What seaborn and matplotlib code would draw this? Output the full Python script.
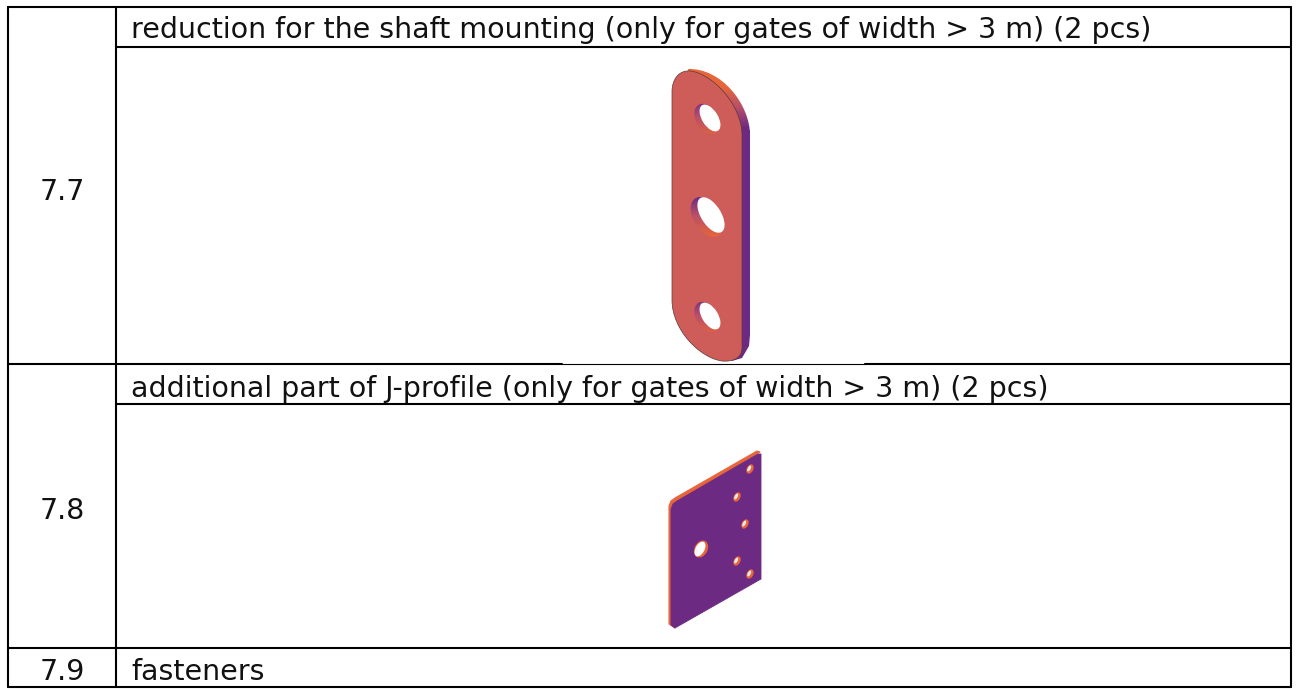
"""
Parts table: items 7.7 - 7.9 with the two part drawings.
"""

import numpy as np
import pandas as pd
import matplotlib
matplotlib.use('Agg')
import matplotlib.pyplot as plt
import seaborn as sns
from matplotlib.colors import LinearSegmentedColormap
from matplotlib.patches import Ellipse, PathPatch, Polygon
from matplotlib.path import Path

# Table text
ITEM_LABELS = ['7.7', '7.8', '7.9']
ITEM_BASELINES = [200, 519, 680]
ROW_TITLES = ['reduction for the shaft mounting (only for gates of width > 3 m) (2 pcs)',
              'additional part of J-profile (only for gates of width > 3 m) (2 pcs)',
              'fasteners']
TITLE_BASELINES = [38, 397, 680]

# Table rules in image pixels (x0, x1, y0, y1)
THICK_RULES = [(8, 1291, 7, 7), (116, 1291, 47, 47), (8, 562, 364, 364), (865, 1291, 364, 364),
               (116, 1291, 404, 404), (116, 1291, 648, 648), (8, 116, 648, 648), (8, 1291, 687, 687),
               (8, 8, 7, 687), (116, 116, 7, 687), (1291, 1291, 7, 687)]
THIN_RULES = [(562, 865, 364, 364)]

# Colours of the parts
FACE_RED = '#CE5C58'
PURPLE = '#6D2A82'
ORANGE = '#E6663A'

# Reduction plate outlines, with matplotlib path codes as letters
FACE_PTS = [(672, 92), (672, 78), (680, 70), (690, 71), (712, 73), (742, 105), (742, 135),
            (742, 348), (742, 358), (733, 362), (722, 361), (700, 358), (672, 330), (672, 300), (672, 92)]
FACE_CODES = 'MCCCCCCLCCCCCCL'
SIDE_PTS = [(688, 69), (722, 68), (750, 105), (750, 135), (750, 335), (750, 350), (742, 360),
            (730, 361), (688, 69)]
SIDE_CODES = 'MCCCLCCCL'
HOLE_WALL_X = [707, 707, 707]
HOLE_WALL_Y = [119, 217, 317]
HOLE_OPEN_X = [710, 711, 710]
HOLE_OPEN_Y = [118, 215, 316]
HOLE_OUTER = [(33, 22), (44, 27), (33, 22)]
HOLE_INNER = [(30, 16), (40, 20), (30, 16)]

# J-profile part outlines
EDGE_PTS = [(669, 624), (669, 506), (671, 501), (675, 498), (757, 451), (760, 452), (671, 507), (672, 624), (675, 628)]
SHEET_PTS = [(671, 509), (673, 504), (677, 501), (758, 454), (761, 454), (761, 579), (675, 628), (671, 625)]
BIG_HOLE = (701, 549)
SMALL_HOLES_X = [750, 737, 745, 737, 750]
SMALL_HOLES_Y = [469, 497, 524, 561, 574]

sns.set_theme(style='white')
plt.rcParams['font.family'] = ['DejaVu Sans']

fig = plt.figure(figsize=(13, 6.89), dpi=100)
ax = fig.add_axes([0, 0, 1, 1])


def rules_frame(rules):
    rows = []
    for i, (x0, x1, y0, y1) in enumerate(rules):
        rows.append({'rule': i, 'x': x0, 'y': y0})
        rows.append({'rule': i, 'x': x1, 'y': y1})
    return pd.DataFrame(rows)


def curve_path(pts, letters):
    kinds = {'M': Path.MOVETO, 'L': Path.LINETO, 'C': Path.CURVE4}
    return Path(pts, [kinds[c] for c in letters])


def gradient(stops, extent, clip, zorder=2):
    cmap = LinearSegmentedColormap.from_list('part', stops)
    img = np.linspace(0, 1, 256)[:, None]
    im = ax.imshow(img, cmap=cmap, extent=extent, aspect='auto', origin='upper', zorder=zorder)
    im.set_clip_path(clip)


# Table rules
sns.lineplot(data=rules_frame(THICK_RULES), x='x', y='y', units='rule', estimator=None, sort=False,
             color='black', linewidth=1.5, ax=ax)
sns.lineplot(data=rules_frame(THIN_RULES), x='x', y='y', units='rule', estimator=None, sort=False,
             color='black', linewidth=0.8, ax=ax)

# Text
for label, y in zip(ITEM_LABELS, ITEM_BASELINES):
    ax.text(62, y, label, ha='center', va='baseline', fontsize=20.5, color='#111111')
for title, y in zip(ROW_TITLES, TITLE_BASELINES):
    ax.text(131, y, title, ha='left', va='baseline', fontsize=20.5, color='#111111')

# Reduction plate: side first, then the front face over it
side = PathPatch(curve_path(SIDE_PTS, SIDE_CODES), facecolor='none', edgecolor='none')
ax.add_patch(side)
gradient([(0, ORANGE), (0.3, ORANGE), (0.6, '#B84F6A'), (0.9, PURPLE), (1, PURPLE)], (685, 755, 135, 66), side)
side_low = Polygon([(735, 130), (750, 130), (750, 335), (749, 346), (742, 358), (732, 361)],
                   closed=True, facecolor=PURPLE, edgecolor='none', zorder=2)
ax.add_patch(side_low)
face = PathPatch(curve_path(FACE_PTS, FACE_CODES), facecolor=FACE_RED, edgecolor='#5a3a3a', linewidth=0.5, zorder=3)
ax.add_patch(face)

for wx, wy, ox, oy, outer, inner in zip(HOLE_WALL_X, HOLE_WALL_Y, HOLE_OPEN_X, HOLE_OPEN_Y, HOLE_OUTER, HOLE_INNER):
    wall = Ellipse((wx, wy), outer[0], outer[1], angle=58, facecolor='none', edgecolor='none')
    ax.add_patch(wall)
    gradient([(0, PURPLE), (0.45, '#B84F6A'), (1, ORANGE)], (wx - 20, wx + 20, wy + 20, wy - 20), wall, zorder=4)
    ax.add_patch(Ellipse((ox, oy), inner[0], inner[1], angle=58, facecolor='white', edgecolor='none', zorder=5))

# J-profile part
ax.add_patch(Polygon(EDGE_PTS, closed=True, facecolor=ORANGE, edgecolor=ORANGE, linewidth=0.8, zorder=3, joinstyle='round'))
ax.add_patch(Polygon(SHEET_PTS, closed=True, facecolor=PURPLE, edgecolor=PURPLE, linewidth=0.6, zorder=4, joinstyle='round'))
ax.add_patch(Ellipse((BIG_HOLE[0], BIG_HOLE[1]), 18, 13, angle=-62, facecolor=ORANGE, edgecolor='none', zorder=5))
ax.add_patch(Ellipse((BIG_HOLE[0] - 1, BIG_HOLE[1]), 16, 9, angle=-62, facecolor='white', edgecolor='none', zorder=6))
for x, y in zip(SMALL_HOLES_X, SMALL_HOLES_Y):
    ax.add_patch(Ellipse((x, y), 10, 6.5, angle=-62, facecolor=ORANGE, edgecolor='none', zorder=5))
    ax.add_patch(Ellipse((x - 0.8, y - 0.5), 6.5, 3, angle=-62, facecolor='#e8e8e8', edgecolor='none', zorder=6))

ax.set_xlim(0, 1300)
ax.set_ylim(689, 0)
ax.set_axis_off()
fig.savefig('out.png', dpi=100, facecolor='white')
plt.close(fig)
